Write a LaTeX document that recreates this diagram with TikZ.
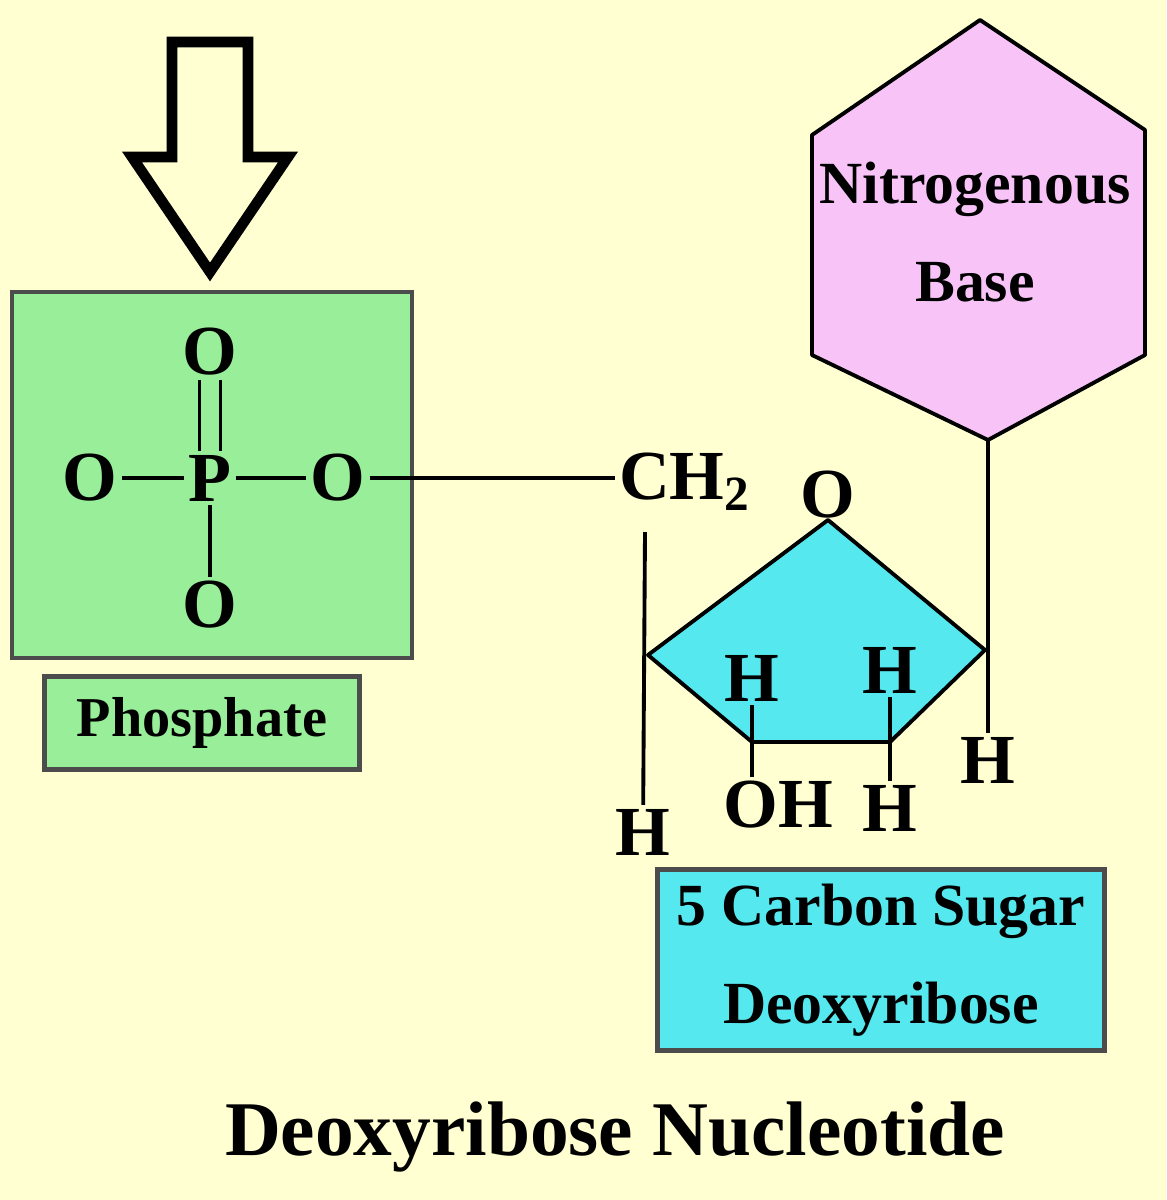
\documentclass[tikz,border=0pt]{standalone}
\usepackage{fontspec}
\setmainfont{Liberation Serif}
\usetikzlibrary{positioning}
\definecolor{paper}{HTML}{FFFFD2}
\definecolor{phosgreen}{HTML}{99EE99}
\definecolor{sugarcyan}{HTML}{55E8EE}
\definecolor{basepink}{HTML}{F8C4F8}
\tikzset{
    atom/.style = {
        inner sep=1pt,
        font=\fontsize{20}{22}\selectfont\bfseries
    },
    bond/.style = {
        line width=1.1pt,
        black
    },
    tag/.style = {
        draw=black!70,
        line width=1.4pt,
        font=\fontsize{16}{22}\selectfont\bfseries
    }
}
\begin{document}
\begin{tikzpicture}[x=0.01cm,y=-0.01cm]
    % Background
    \fill[paper] (0,0) rectangle (1166,1200);
    \useasboundingbox (0,0) rectangle (1166,1200);

    % Hollow arrow
    \draw[line width=3pt, line join=miter] (172,42) -- (248,42) -- (248,157) -- (288,157)
        -- (210,272) -- (132,157) -- (172,157) -- cycle;

    % Phosphate group
    \draw[tag, fill=phosgreen] (12,292) rectangle (412,658);
    \node[atom] (otop) at (210,352) {O};
    \node[atom] (p) at (210,478) {P};
    \node[atom] (oleft) at (90,478) {O};
    \node[atom] (oright) at (338,478) {O};
    \node[atom] (obot) at (210,605) {O};
    \draw[bond] ([xshift=-3pt]otop.south) -- ([xshift=-3pt]p.north);
    \draw[bond] ([xshift=3pt]otop.south) -- ([xshift=3pt]p.north);
    \draw[bond] (p.west) -- (oleft.east);
    \draw[bond] (p.east) -- (oright.west);
    \draw[bond] (p) -- (obot);
    \node[tag, fill=phosgreen, minimum width=3.15cm, minimum height=0.93cm] (phos) at (202,723) {Phosphate};

    % Sugar ring
    \node[atom] (ch2) at (685,482) {CH$_\mathbf{2}$};
    \draw[bond] (oright.east) -- (oright.east -| ch2.west);
    \coordinate (c4) at (648,655);
    \coordinate (oring) at (828,520);
    \coordinate (c1) at (985,650);
    \coordinate (c2) at (890,742);
    \coordinate (c3) at (752,742);
    \draw[bond, fill=sugarcyan, line join=round] (oring) -- (c1) -- (c2) -- (c3) -- (c4) -- cycle;
    \node[atom] (olab) at (828,495) {O};
    \node[atom] (hleft) at (643,832) {H};
    \draw[bond] (645,532) -- (hleft);
    \node[atom] (h3) at (752,678) {H};
    \node[atom] (h2) at (890,670) {H};
    \node[atom] (oh) at (778,805) {OH};
    \node[atom] (h2b) at (890,808) {H};
    \node[atom] (h1) at (988,760) {H};
    \draw[bond] (h3) -- (c3);
    \draw[bond] (h2) -- (c2);
    \draw[bond] (c3) -- (c3 |- oh.north);
    \draw[bond] (c2) -- (h2b);

    % Nitrogenous base
    \draw[bond, fill=basepink, line join=round] (980,20) -- (1145,130) -- (1145,355)
        -- (988,440) coordinate (basebot) -- (812,355) -- (812,135) -- cycle;
    \node[atom, font=\fontsize{17}{22}\selectfont\bfseries, align=center] (base) at (975,232)
        {Nitrogenous\\[6pt]Base};
    \draw[bond] (basebot) -- (h1);

    % Labels
    \node[tag, fill=sugarcyan, align=center, minimum width=4.47cm, minimum height=1.8cm,
        font=\fontsize{17}{28}\selectfont\bfseries] (sugar) at (881,960)
        {5 Carbon Sugar\\Deoxyribose};
    \node[font=\fontsize{22}{26}\selectfont\bfseries] (title) at (615,1137) {Deoxyribose Nucleotide};
\end{tikzpicture}
\end{document}
